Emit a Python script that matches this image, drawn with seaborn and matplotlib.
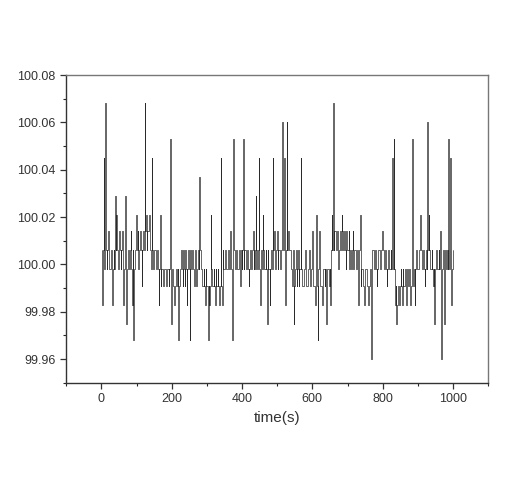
import numpy as np
import matplotlib
matplotlib.use("Agg")
import matplotlib.pyplot as plt
from matplotlib.ticker import MultipleLocator, FormatStrFormatter
import seaborn as sns

# sampling grid (s)
time_s = np.arange(2, 1001, 2)

value = [
    100.006, 99.983, 100.006, 100.045, 99.998, 100.068, 100.006, 99.998, 100.006, 100.014, 100.006, 99.998, 99.998, 100.006, 100.006, 99.983, 99.998, 100.006, 99.998, 100.029,
    100.006, 100.021, 100.006, 99.998, 99.998, 100.014, 100.006, 99.998, 100.006, 100.014, 100.006, 99.983, 99.998, 100.029, 100.006, 99.975, 99.998, 100.006, 100.006, 99.998,
    100.006, 100.014, 99.998, 99.983, 100.006, 99.968, 99.998, 100.006, 100.006, 100.021, 100.006, 100.014, 99.998, 100.006, 100.006, 100.014, 100.006, 99.991, 100.006, 100.014,
    100.006, 100.068, 100.014, 100.021, 100.006, 100.014, 100.014, 100.021, 100.014, 100.006, 99.998, 100.045, 100.006, 99.998, 99.998, 100.006, 100.006, 99.998, 99.998, 100.006,
    99.998, 99.983, 99.998, 100.021, 99.991, 99.998, 99.998, 99.991, 99.991, 99.998, 99.998, 99.991, 99.991, 99.998, 99.998, 99.991, 99.998, 100.053, 99.991, 99.975,
    99.998, 99.991, 99.991, 99.983, 99.991, 99.998, 99.998, 99.991, 99.998, 99.968, 99.991, 99.998, 99.998, 100.006, 99.998, 99.991, 100.006, 99.998, 99.991, 100.006,
    99.998, 99.983, 99.998, 100.006, 99.998, 99.968, 100.006, 99.998, 99.998, 100.006, 99.998, 99.991, 99.998, 100.006, 99.991, 99.998, 99.998, 100.006, 99.998, 100.037,
    100.006, 99.998, 99.998, 99.991, 99.991, 99.998, 99.991, 99.983, 99.998, 99.991, 99.991, 99.968, 99.991, 99.983, 99.991, 100.021, 99.998, 99.991, 99.991, 99.998,
    99.991, 99.983, 99.998, 99.991, 99.991, 99.998, 99.991, 99.983, 99.991, 100.045, 99.991, 99.983, 100.006, 99.998, 99.998, 100.006, 100.006, 99.998, 99.998, 100.006,
    100.006, 99.998, 100.006, 100.014, 99.998, 99.968, 100.006, 100.053, 100.006, 99.998, 99.998, 100.006, 100.006, 99.998, 99.998, 100.006, 99.998, 99.991, 100.006, 99.998,
    100.006, 100.053, 99.998, 100.006, 100.006, 99.998, 99.998, 100.006, 99.998, 99.991, 99.998, 100.006, 100.006, 99.998, 100.006, 100.014, 99.998, 100.006, 99.998, 100.029,
    100.006, 99.998, 100.006, 100.045, 99.998, 99.983, 99.998, 100.006, 99.998, 100.021, 100.006, 99.998, 99.998, 100.006, 99.998, 99.975, 100.006, 99.998, 99.998, 99.983,
    99.998, 100.006, 99.998, 100.045, 100.006, 100.014, 100.006, 99.998, 100.006, 100.014, 99.998, 100.006, 100.006, 99.998, 99.998, 100.006, 100.014, 100.060, 100.006, 100.045,
    100.006, 99.983, 100.006, 100.060, 100.006, 100.014, 100.014, 100.006, 100.006, 99.998, 99.998, 99.991, 100.006, 99.975, 99.991, 99.998, 100.006, 99.991, 99.998, 100.006,
    99.991, 99.998, 99.998, 100.045, 99.998, 99.991, 99.991, 99.998, 99.998, 100.006, 99.998, 99.991, 99.991, 99.998, 99.998, 100.006, 99.991, 99.998, 99.998, 100.014,
    99.998, 99.991, 99.991, 99.983, 99.998, 100.021, 99.991, 99.968, 99.998, 100.014, 99.998, 99.991, 99.991, 99.983, 99.991, 99.998, 99.998, 99.991, 99.998, 99.975,
    99.991, 99.998, 99.998, 99.991, 99.998, 99.983, 100.006, 100.021, 100.006, 100.068, 100.006, 100.014, 100.014, 100.006, 100.006, 100.014, 99.998, 100.006, 100.006, 100.014,
    100.006, 100.021, 100.014, 100.006, 100.006, 100.014, 100.006, 99.998, 100.014, 100.006, 100.006, 100.014, 99.998, 100.006, 100.006, 99.998, 100.006, 100.014, 99.998, 100.006,
    100.006, 99.998, 99.998, 100.006, 99.998, 99.983, 100.006, 100.021, 99.991, 99.998, 99.998, 99.991, 99.991, 99.983, 99.991, 99.998, 99.998, 99.991, 99.991, 99.983,
    99.991, 99.998, 99.998, 99.960, 99.998, 100.006, 100.006, 99.998, 99.998, 100.006, 99.998, 99.991, 99.998, 100.006, 100.006, 99.998, 99.998, 100.006, 100.006, 100.014,
    100.006, 99.998, 99.998, 100.006, 99.998, 99.991, 99.998, 100.006, 100.006, 99.998, 99.998, 100.006, 99.998, 100.045, 99.998, 100.053, 99.998, 99.983, 99.991, 99.975,
    99.983, 99.991, 99.991, 99.983, 99.991, 99.998, 99.991, 99.983, 99.998, 99.991, 99.991, 99.998, 99.991, 99.983, 99.998, 99.991, 99.991, 99.998, 99.991, 99.983,
    99.991, 100.053, 99.998, 99.991, 99.998, 99.983, 99.998, 100.006, 100.006, 99.998, 99.998, 100.006, 100.006, 100.021, 100.006, 99.998, 99.998, 100.006, 99.998, 99.991,
    99.998, 100.006, 99.998, 100.060, 100.006, 100.021, 100.006, 99.998, 99.998, 100.006, 99.998, 99.991, 99.998, 99.975, 99.998, 100.006, 100.006, 99.998, 99.998, 100.006,
    99.998, 100.014, 99.998, 99.960, 99.998, 100.006, 99.998, 99.975, 100.006, 99.998, 99.998, 100.006, 99.998, 100.053, 99.998, 100.045, 100.006, 99.983, 99.998, 100.006,
]

sns.set_style("ticks")
plt.rcParams['font.family'] = ['Liberation Sans', 'DejaVu Sans']

fig = plt.figure(figsize=(5.21, 4.84), dpi=100)
ax = fig.add_axes([0.127, 0.209, 0.810, 0.636])

sns.lineplot(x=time_s, y=value, ax=ax, color='#2a2a2a', linewidth=0.5,
             drawstyle='steps-mid')

ax.set_xlim(-100, 1100)
ax.set_ylim(99.95, 100.08)
ax.xaxis.set_major_locator(MultipleLocator(200))
ax.xaxis.set_minor_locator(MultipleLocator(100))
ax.yaxis.set_major_locator(MultipleLocator(0.02))
ax.yaxis.set_minor_locator(MultipleLocator(0.01))
ax.yaxis.set_major_formatter(FormatStrFormatter('%.2f'))
ax.tick_params(which='major', direction='out', length=4, width=0.9,
               labelsize=9, colors='#333333', top=False, right=False)
ax.tick_params(which='minor', direction='out', length=2.5, width=0.8,
               top=False, right=False)

for side in ['left', 'bottom']:
    ax.spines[side].set_color('#333333')
    ax.spines[side].set_linewidth(1.0)
for side in ['top', 'right']:
    ax.spines[side].set_color('#777777')
    ax.spines[side].set_linewidth(1.0)

ax.set_xlabel('time(s)', fontsize=11, color='#333333')
ax.set_ylabel('')

plt.savefig("out.png", dpi=100)
plt.close()
